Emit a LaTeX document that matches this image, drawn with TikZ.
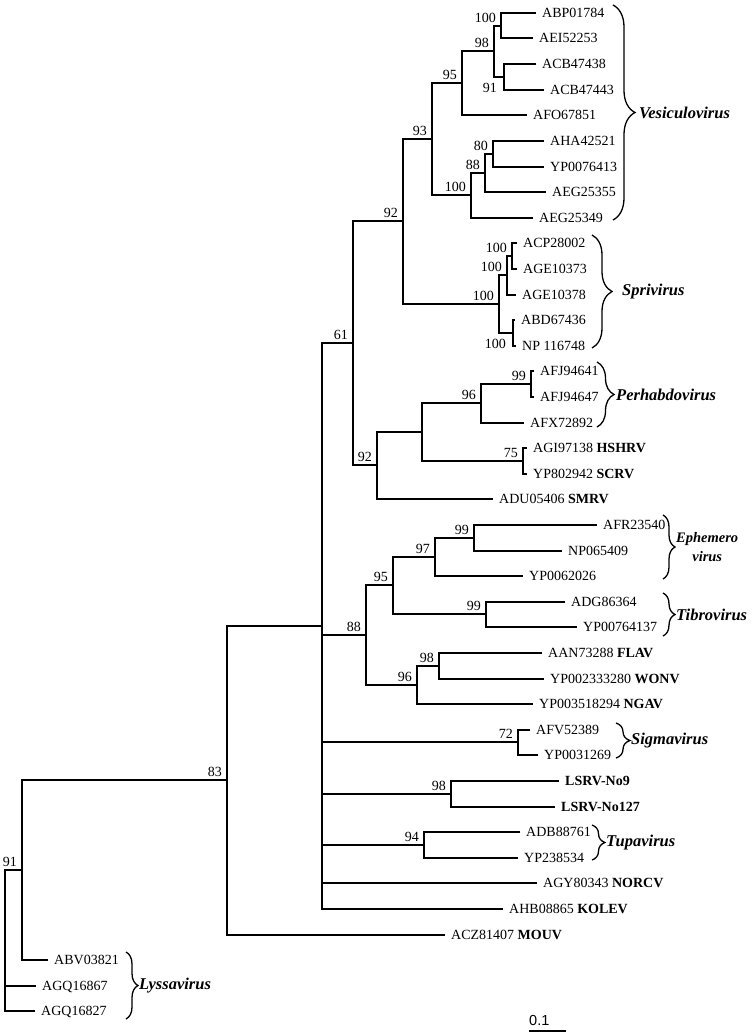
\documentclass[tikz,border=0pt]{standalone}
\usepackage{fontspec}
\setmainfont{Liberation Serif}
\setsansfont{Liberation Sans}
\usetikzlibrary{decorations.pathreplacing}

\begin{document}
\begin{tikzpicture}[
    x=1pt,y=-1pt,
    branch/.style={line width=2pt},
    leaf/.style={anchor=west,inner sep=0pt,xshift=6pt,text height=9.5pt,text depth=0pt,font=\fontsize{14}{16}\selectfont},
    bs/.style={anchor=south east,inner sep=0pt,xshift=-5pt,yshift=3pt,font=\fontsize{14}{16}\selectfont},
    bsbelow/.style={anchor=north east,inner sep=0pt,xshift=-7pt,yshift=-6pt,font=\fontsize{14}{16}\selectfont},
    clade/.style={decorate,decoration={brace,amplitude=#1},line width=1.3pt},
    cladename/.style={anchor=west,inner sep=0pt,font=\fontsize{16.5}{18}\selectfont\bfseries\itshape}
]
\useasboundingbox (0,0) rectangle (752,1036);

% tips
\coordinate (abp) at (536,13);
\coordinate (aei) at (533,38);
\coordinate (acbA) at (536,64);
\coordinate (acbB) at (544,90);
\coordinate (afo) at (527,115);
\coordinate (aha) at (544,141);
\coordinate (ypA) at (544,167);
\coordinate (aegA) at (546,192);
\coordinate (aegB) at (533,218);
\coordinate (acp) at (517,243);
\coordinate (ageA) at (517,269);
\coordinate (ageB) at (516,295);
\coordinate (abd) at (515,320);
\coordinate (npA) at (516,346);
\coordinate (afjA) at (534,371);
\coordinate (afjB) at (534,397);
\coordinate (afx) at (524,423);
\coordinate (agi) at (527,448);
\coordinate (ypB) at (527,474);
\coordinate (adu) at (493,499);
\coordinate (afr) at (597,525);
\coordinate (npB) at (562,551);
\coordinate (ypC) at (523,576);
\coordinate (adg) at (565,602);
\coordinate (ypD) at (577,627);
\coordinate (aan) at (542,653);
\coordinate (ypE) at (544,679);
\coordinate (ypF) at (533,704);
\coordinate (afv) at (530,730);
\coordinate (ypG) at (538,755);
\coordinate (lsrvA) at (559,781);
\coordinate (lsrvB) at (555,807);
\coordinate (adb) at (520,832);
\coordinate (ypH) at (518,858);
\coordinate (agy) at (537,883);
\coordinate (ahb) at (503,909);
\coordinate (acz) at (445,935);
\coordinate (abv) at (48,960);
\coordinate (agqA) at (36,986);
\coordinate (agqB) at (35,1011);

% inner nodes
\coordinate (ves1) at (501,26);
\coordinate (ves2) at (504,77);
\coordinate (ves3) at (494,51);
\coordinate (ves4) at (462,83);
\coordinate (ves5) at (493,154);
\coordinate (ves6) at (485,173);
\coordinate (ves7) at (471,195);
\coordinate (ves8) at (432,139);
\coordinate (spr1) at (512,256);
\coordinate (spr2) at (507,275);
\coordinate (spr3) at (513,333);
\coordinate (spr4) at (499,304);
\coordinate (vesspr) at (403,221);
\coordinate (per1) at (531,384);
\coordinate (per2) at (481,403);
\coordinate (fish1) at (523,461);
\coordinate (fish2) at (422,432);
\coordinate (fish3) at (377,465);
\coordinate (grp61) at (353,343);
\coordinate (eph1) at (474,538);
\coordinate (eph2) at (435,557);
\coordinate (tib) at (486,614);
\coordinate (ephtib) at (393,585);
\coordinate (hap1) at (439,666);
\coordinate (hap2) at (417,685);
\coordinate (grp88) at (366,635);
\coordinate (sig) at (518,742);
\coordinate (lsrv) at (451,794);
\coordinate (tup) at (424,845);
\coordinate (poly) at (322,626);
\coordinate (grp83) at (227,780);
\coordinate (grp91) at (22,870);
\coordinate (root) at (5,940);

% branches
\draw[branch] (abp) -| (ves1) |- (aei);
\draw[branch] (acbA) -| (ves2) |- (acbB);
\draw[branch] (ves1) -| (ves3) |- (ves2);
\draw[branch] (ves3) -| (ves4) |- (afo);
\draw[branch] (aha) -| (ves5) |- (ypA);
\draw[branch] (ves5) -| (ves6) |- (aegA);
\draw[branch] (ves6) -| (ves7) |- (aegB);
\draw[branch] (ves4) -| (ves8) |- (ves7);
\draw[branch] (acp) -| (spr1) |- (ageA);
\draw[branch] (spr1) -| (spr2) |- (ageB);
\draw[branch] (abd) -| (spr3) |- (npA);
\draw[branch] (spr2) -| (spr4) |- (spr3);
\draw[branch] (ves8) -| (vesspr) |- (spr4);
\draw[branch] (afjA) -| (per1) |- (afjB);
\draw[branch] (per1) -| (per2) |- (afx);
\draw[branch] (agi) -| (fish1) |- (ypB);
\draw[branch] (per2) -| (fish2) |- (fish1);
\draw[branch] (fish2) -| (fish3) |- (adu);
\draw[branch] (vesspr) -| (grp61) |- (fish3);
\draw[branch] (afr) -| (eph1) |- (npB);
\draw[branch] (eph1) -| (eph2) |- (ypC);
\draw[branch] (adg) -| (tib) |- (ypD);
\draw[branch] (eph2) -| (ephtib) |- (tib);
\draw[branch] (aan) -| (hap1) |- (ypE);
\draw[branch] (hap1) -| (hap2) |- (ypF);
\draw[branch] (ephtib) -| (grp88) |- (hap2);
\draw[branch] (afv) -| (sig) |- (ypG);
\draw[branch] (lsrvA) -| (lsrv) |- (lsrvB);
\draw[branch] (adb) -| (tup) |- (ypH);
\draw[branch] (grp61) -| (poly) |- (ahb);
\draw[branch] (poly) |- (grp88);
\draw[branch] (poly) |- (sig);
\draw[branch] (poly) |- (lsrv);
\draw[branch] (poly) |- (tup);
\draw[branch] (poly) |- (agy);
\draw[branch] (poly) -| (grp83) |- (acz);
\draw[branch] (grp83) -| (grp91) |- (abv);
\draw[branch] (grp91) -| (root) |- (agqB);
\draw[branch] (root) |- (agqA);

% tip labels
\node[leaf] (abpL) at (abp) {ABP01784};
\node[leaf] (aeiL) at (aei) {AEI52253};
\node[leaf] (acbAL) at (acbA) {ACB47438};
\node[leaf] (acbBL) at (acbB) {ACB47443};
\node[leaf] (afoL) at (afo) {AFO67851};
\node[leaf] (ahaL) at (aha) {AHA42521};
\node[leaf] (ypAL) at (ypA) {YP0076413};
\node[leaf] (aegAL) at (aegA) {AEG25355};
\node[leaf] (aegBL) at (aegB) {AEG25349};
\node[leaf] (acpL) at (acp) {ACP28002};
\node[leaf] (ageAL) at (ageA) {AGE10373};
\node[leaf] (ageBL) at (ageB) {AGE10378};
\node[leaf] (abdL) at (abd) {ABD67436};
\node[leaf] (npAL) at (npA) {NP 116748};
\node[leaf] (afjAL) at (afjA) {AFJ94641};
\node[leaf] (afjBL) at (afjB) {AFJ94647};
\node[leaf] (afxL) at (afx) {AFX72892};
\node[leaf] (agiL) at (agi) {AGI97138 \textbf{HSHRV}};
\node[leaf] (ypBL) at (ypB) {YP802942 \textbf{SCRV}};
\node[leaf] (aduL) at (adu) {ADU05406 \textbf{SMRV}};
\node[leaf] (afrL) at (afr) {AFR23540};
\node[leaf] (npBL) at (npB) {NP065409};
\node[leaf] (ypCL) at (ypC) {YP0062026};
\node[leaf] (adgL) at (adg) {ADG86364};
\node[leaf] (ypDL) at (ypD) {YP00764137};
\node[leaf] (aanL) at (aan) {AAN73288 \textbf{FLAV}};
\node[leaf] (ypEL) at (ypE) {YP002333280 \textbf{WONV}};
\node[leaf] (ypFL) at (ypF) {YP003518294 \textbf{NGAV}};
\node[leaf] (afvL) at (afv) {AFV52389};
\node[leaf] (ypGL) at (ypG) {YP0031269};
\node[leaf] (lsrvAL) at (lsrvA) {\textbf{LSRV-No9}};
\node[leaf] (lsrvBL) at (lsrvB) {\textbf{LSRV-No127}};
\node[leaf] (adbL) at (adb) {ADB88761};
\node[leaf] (ypHL) at (ypH) {YP238534};
\node[leaf] (agyL) at (agy) {AGY80343 \textbf{NORCV}};
\node[leaf] (ahbL) at (ahb) {AHB08865 \textbf{KOLEV}};
\node[leaf] (aczL) at (acz) {ACZ81407 \textbf{MOUV}};
\node[leaf] (abvL) at (abv) {ABV03821};
\node[leaf] (agqAL) at (agqA) {AGQ16867};
\node[leaf] (agqBL) at (agqB) {AGQ16827};

% bootstrap values
\node[bs] at (ves1) {100};
\node[bsbelow] at (ves2) {91};
\node[bs] at (ves3) {98};
\node[bs] at (ves4) {95};
\node[bs] at (ves5) {80};
\node[bs] at (ves6) {88};
\node[bs] at (ves7) {100};
\node[bs] at (ves8) {93};
\node[bs] at (spr1) {100};
\node[bs] at (spr2) {100};
\node[bsbelow] at (spr3) {100};
\node[bs] at (spr4) {100};
\node[bs] at (vesspr) {92};
\node[bs] at (per1) {99};
\node[bs] at (per2) {96};
\node[bs] at (fish1) {75};
\node[bs] at (fish3) {92};
\node[bs] at (grp61) {61};
\node[bs] at (eph1) {99};
\node[bs] at (eph2) {97};
\node[bs] at (tib) {99};
\node[bs] at (ephtib) {95};
\node[bs] at (hap1) {98};
\node[bs] at (hap2) {96};
\node[bs] at (grp88) {88};
\node[bs] at (sig) {72};
\node[bs] at (lsrv) {98};
\node[bs] at (tup) {94};
\node[bs] at (grp83) {83};
\node[bs] at (grp91) {91};

% genera
\draw[clade=22] (613,5) -- (613,220);
\node[cladename] (vesN) at (639,112.5) {Vesiculovirus};
\draw[clade=20] (592,235) -- (592,348);
\node[cladename] (sprN) at (622,291.5) {Sprivirus};
\draw[clade=17] (597,362) -- (597,427);
\node[cladename] (perN) at (616,394.5) {Perhabdovirus};
\draw[clade=12] (663,515) -- (663,579);
\node[cladename,align=center,font=\fontsize{14.5}{19.5}\selectfont\bfseries\itshape] (ephN) at (676,547) {Ephemero\\virus};
\draw[clade=12] (663,593) -- (663,636);
\node[cladename] (tibN) at (676,614.5) {Tibrovirus};
\draw[clade=14] (616,723) -- (616,758);
\node[cladename] (sigN) at (631,740.5) {Sigmavirus};
\draw[clade=13] (592,825) -- (592,860);
\node[cladename] (tupN) at (606,842.5) {Tupavirus};
\draw[clade=12] (126,952) -- (126,1019);
\node[cladename] (lysN) at (139,985.5) {Lyssavirus};

% scale bar
\coordinate (barL) at (529,1031);
\coordinate (barR) at (566,1031);
\draw[line width=2pt] (barL) -- (barR);
\node[anchor=south west,inner sep=0pt,yshift=5pt,font=\sffamily\fontsize{14.5}{16}\selectfont] (barT) at (barL) {0.1};
\end{tikzpicture}
\end{document}
